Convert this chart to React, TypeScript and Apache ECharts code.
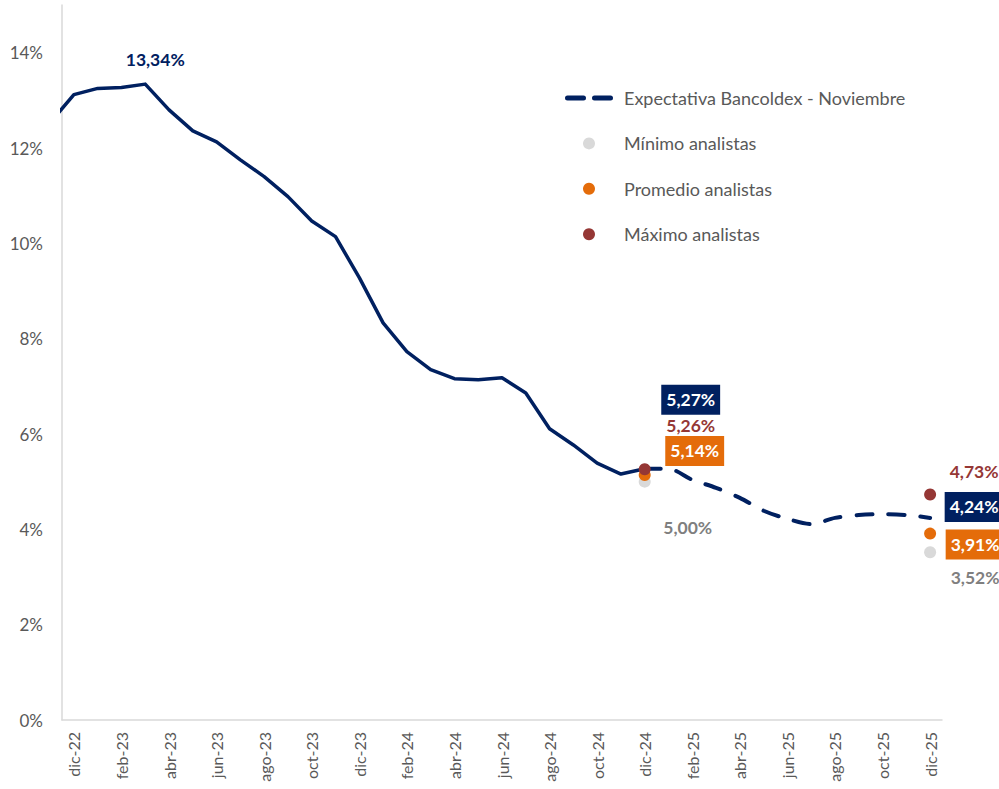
import React, { useEffect, useRef } from 'react';
import * as echarts from 'echarts';

// Months (index 0 = nov-22, which sits just left of the visible range)
const months = [
  'nov-22', 'dic-22',
  'ene-23', 'feb-23', 'mar-23', 'abr-23', 'may-23', 'jun-23', 'jul-23', 'ago-23', 'sep-23', 'oct-23', 'nov-23', 'dic-23',
  'ene-24', 'feb-24', 'mar-24', 'abr-24', 'may-24', 'jun-24', 'jul-24', 'ago-24', 'sep-24', 'oct-24', 'nov-24', 'dic-24',
  'ene-25', 'feb-25', 'mar-25', 'abr-25', 'may-25', 'jun-25', 'jul-25', 'ago-25', 'sep-25', 'oct-25', 'nov-25', 'dic-25',
];

// Observed rate, nov-22 .. dic-24
const historico = [
  12.53, 13.12, 13.25, 13.27, 13.34, 12.8, 12.36, 12.13, 11.75, 11.4, 10.98, 10.47, 10.14, 9.28,
  8.33, 7.73, 7.35, 7.16, 7.14, 7.18, 6.86, 6.11, 5.77, 5.39, 5.16, 5.27,
];

// Expectativa Bancoldex - Noviembre, dic-24 .. dic-25
const expectativa = [5.27, 5.27, 5.04, 4.87, 4.66, 4.39, 4.22, 4.11, 4.24, 4.3, 4.32, 4.3, 4.24];

// Analysts
const analystMonths = ['dic-24', 'dic-25'];
const minimo = [5.0, 3.52];
const promedio = [5.14, 3.91];
const maximo = [5.26, 4.73];

// Axis labels
const xLabelMonths = ['dic-22', 'feb-23', 'abr-23', 'jun-23', 'ago-23', 'oct-23', 'dic-23', 'feb-24', 'abr-24', 'jun-24', 'ago-24', 'oct-24', 'dic-24', 'feb-25', 'abr-25', 'jun-25', 'ago-25', 'oct-25', 'dic-25'];
const yTicks = [0, 2, 4, 6, 8, 10, 12, 14];

const NAVY = '#002060';
const ORANGE = '#E46C0A';
const DARKRED = '#953735';
const LIGHTGREY = '#D9D9D9';
const TEXTGREY = '#595959';
const LABELGREY = '#7F7F7F';
const FONT = 'Lato, "Open Sans", sans-serif';

const xOf = (m: string) => months.indexOf(m) - 1;
const fmt = (v: number) => v.toFixed(2).replace('.', ',') + '%';

export default function App() {
  const ref = useRef<HTMLDivElement>(null);

  useEffect(() => {
    if (!ref.current) return;
    const chart = echarts.init(ref.current, undefined, { renderer: 'svg' });

    const boxLabel = (bg: string, offset: number[]) => ({
      show: true,
      position: 'inside',
      offset,
      formatter: (p: any) => fmt(p.value[1]),
      color: '#FFFFFF',
      backgroundColor: bg,
      fontFamily: FONT,
      fontWeight: 'bold',
      fontSize: 17.5,
      lineHeight: 19,
      padding: [6, 5, 5, 5],
      opacity: 1,
    });
    const textLabel = (color: string, offset: number[]) => ({
      show: true,
      position: 'inside',
      offset,
      formatter: (p: any) => fmt(p.value[1]),
      color,
      fontFamily: FONT,
      fontWeight: 'bold',
      fontSize: 17.5,
      opacity: 1,
    });

    const histStart = xOf(months[0]);
    const histData = historico.map((v, i) => {
      const m = months[i];
      const item: any = { value: [histStart + i, v] };
      if (m === 'mar-23') item.label = textLabel(NAVY, [10, -25]);
      return item;
    });

    const expStart = xOf('dic-24');
    const expData = expectativa.map((v, i) => {
      const item: any = { value: [expStart + i, v] };
      if (i === 0) item.label = boxLabel(NAVY, [46, -69]);
      if (i === expectativa.length - 1) item.label = boxLabel(NAVY, [44, -11]);
      return item;
    });

    const minData = minimo.map((v, i) => ({
      value: [xOf(analystMonths[i]), v],
      label: textLabel(LABELGREY, i === 0 ? [43, 46] : [45, 25]),
    }));
    const avgData = promedio.map((v, i) => ({
      value: [xOf(analystMonths[i]), v],
      label: boxLabel(ORANGE, i === 0 ? [50, -24] : [45, 11]),
    }));
    const maxData = maximo.map((v, i) => ({
      value: [xOf(analystMonths[i]), v],
      label: textLabel(DARKRED, i === 0 ? [46, -44] : [44, -23]),
    }));

    const option: any = {
      animation: false,
      backgroundColor: '#FFFFFF',
      textStyle: { fontFamily: FONT },
      grid: { left: 62, right: 57, top: 5, bottom: 69, containLabel: false },
      legend: {
        show: true,
        orient: 'vertical',
        left: 560,
        top: 84,
        itemWidth: 48,
        itemHeight: 12,
        itemGap: 27.4,
        selectedMode: false,
        textStyle: { fontSize: 18, color: TEXTGREY, fontFamily: FONT, padding: [0, 0, 0, 6] },
        data: [
          {
            name: 'Expectativa Bancoldex - Noviembre',
            icon: 'path://M2.5,0H18.5A2.5,2.5,0,0,1,18.5,5H2.5A2.5,2.5,0,0,1,2.5,0ZM29.5,0H45.5A2.5,2.5,0,0,1,45.5,5H29.5A2.5,2.5,0,0,1,29.5,0Z',
          },
          { name: 'Mínimo analistas', icon: 'circle' },
          { name: 'Promedio analistas', icon: 'circle' },
          { name: 'Máximo analistas', icon: 'circle' },
        ],
      },
      xAxis: {
        type: 'value',
        min: -0.5,
        max: 36.5,
        axisLine: { show: true, onZero: false, lineStyle: { color: LIGHTGREY, width: 1.5 } },
        axisTick: { show: false },
        splitLine: { show: false },
        axisLabel: {
          customValues: xLabelMonths.map(xOf),
          formatter: (v: number) => months[Math.round(v) + 1] ?? '',
          rotate: 90,
          margin: 12,
          fontSize: 16,
          color: TEXTGREY,
          fontFamily: FONT,
        },
      },
      yAxis: {
        type: 'value',
        min: yTicks[0],
        max: 15,
        interval: 2,
        axisLine: { show: true, onZero: false, lineStyle: { color: LIGHTGREY, width: 1.5 } },
        axisTick: { show: false },
        splitLine: { show: false },
        axisLabel: {
          showMaxLabel: false,
          formatter: (v: number) => (yTicks.includes(v) ? v + '%' : ''),
          margin: 19,
          fontSize: 17,
          color: TEXTGREY,
          fontFamily: FONT,
        },
      },
      series: [
        {
          name: 'Histórico',
          type: 'line',
          data: histData,
          symbol: 'circle',
          symbolSize: 0,
          showSymbol: true,
          color: NAVY,
          lineStyle: { color: NAVY, width: 3.5, join: 'round' },
          label: { show: false },
          z: 2,
        },
        {
          name: 'Expectativa Bancoldex - Noviembre',
          type: 'line',
          data: expData,
          symbol: 'circle',
          symbolSize: 0,
          showSymbol: true,
          smooth: 0.3,
          color: NAVY,
          lineStyle: { color: NAVY, width: 4, type: [16, 16], cap: 'round' },
          label: { show: false },
          z: 2,
        },
        {
          name: 'Mínimo analistas',
          type: 'scatter',
          data: minData,
          symbol: 'circle',
          symbolSize: 12,
          color: LIGHTGREY,
          itemStyle: { color: LIGHTGREY, opacity: 1 },
          z: 3,
        },
        {
          name: 'Promedio analistas',
          type: 'scatter',
          data: avgData,
          symbol: 'circle',
          symbolSize: 12,
          color: ORANGE,
          itemStyle: { color: ORANGE, opacity: 1 },
          z: 4,
        },
        {
          name: 'Máximo analistas',
          type: 'scatter',
          data: maxData,
          symbol: 'circle',
          symbolSize: 12,
          color: DARKRED,
          itemStyle: { color: DARKRED, opacity: 1 },
          z: 5,
        },
      ],
    };

    chart.setOption(option);
    return () => chart.dispose();
  }, []);

  return <div ref={ref} style={{ width: 999, height: 789, position: 'absolute', left: 0, top: 0 }} />;
}
